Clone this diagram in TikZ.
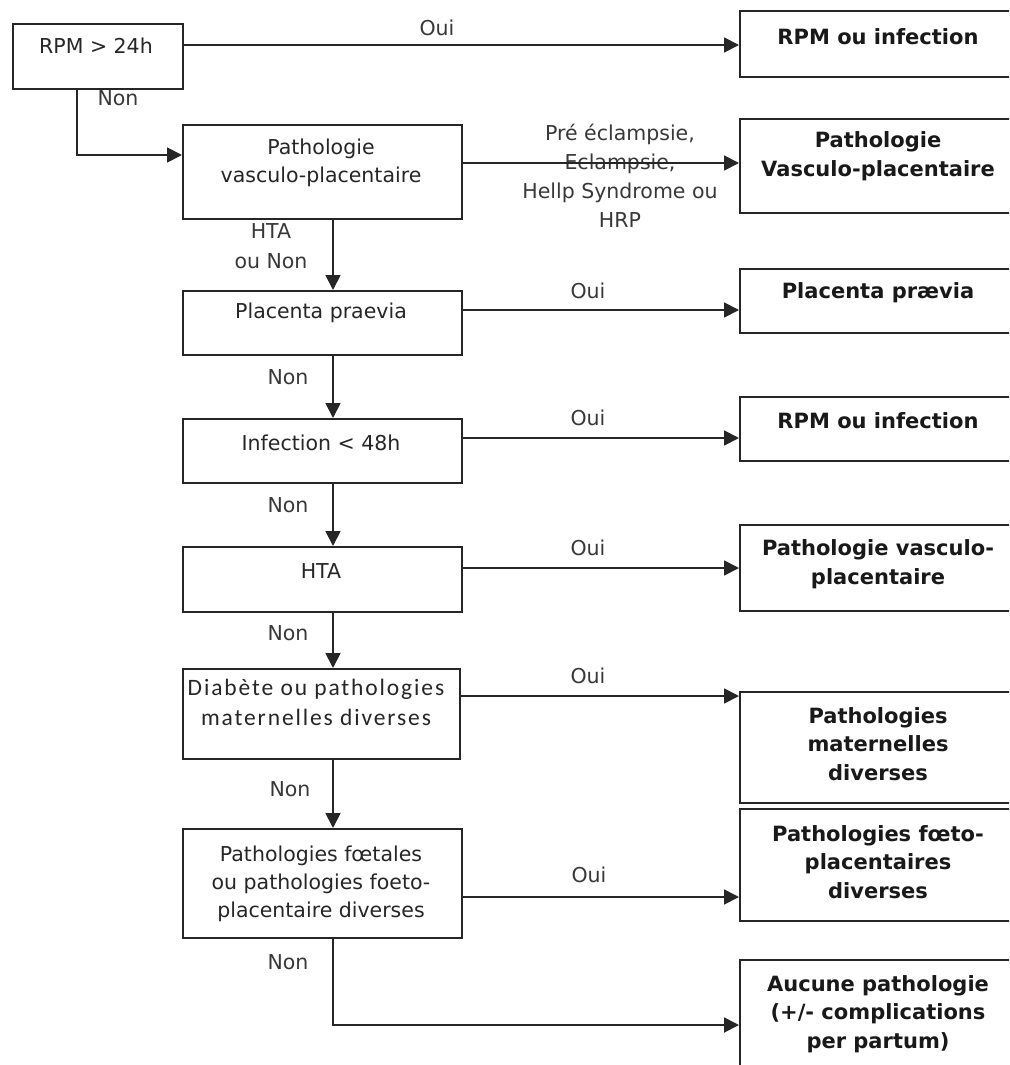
\documentclass[tikz,border=0pt]{standalone}
\usepackage{fontspec}
\setmainfont{DejaVu Sans}
\newfontfamily\calib{Carlito}[LetterSpace=8]
\usetikzlibrary{arrows.meta}
\begin{document}
\begin{tikzpicture}[x=1pt,y=-1pt,
  box/.style={draw=black!85, line width=1.8pt, inner sep=0pt, anchor=north west},
  txt/.style={align=center, font=\fontsize{20.5}{28}\selectfont, text=black!85, inner sep=0pt},
  res/.style={align=center, font=\fontsize{21}{28.5}\selectfont\bfseries, text=black!90, inner sep=0pt},
  lab/.style={txt, text=black!78},
  arr/.style={line width=1.8pt, draw=black!85, -{Triangle[length=15pt,width=15pt]}}]
\useasboundingbox (0,0) rectangle (1009,1065);
\clip (0,0) rectangle (1009,1065);
\fill[white] (0,0) rectangle (1009,1065);
% left boxes
\node[box, minimum width=170pt, minimum height=65pt] (rpm) at (12,23) {};
\node[box, minimum width=279pt, minimum height=94pt] (pvp) at (182,124) {};
\node[box, minimum width=279pt, minimum height=64pt] (pp) at (182,290) {};
\node[box, minimum width=279pt, minimum height=64pt] (inf) at (182,418) {};
\node[box, minimum width=279pt, minimum height=65pt] (hta) at (182,546) {};
\node[box, minimum width=277pt, minimum height=90pt] (dia) at (182,668) {};
\node[box, minimum width=279pt, minimum height=109pt] (foet) at (182,828) {};
% right boxes
\node[box, minimum width=278pt, minimum height=66pt] (r1) at (739,10) {};
\node[box, minimum width=278pt, minimum height=94pt] (r2) at (739,118) {};
\node[box, minimum width=278pt, minimum height=64pt] (r3) at (739,268) {};
\node[box, minimum width=278pt, minimum height=64pt] (r4) at (739,396) {};
\node[box, minimum width=278pt, minimum height=86pt] (r5) at (739,524) {};
\node[box, minimum width=278pt, minimum height=111pt] (r6) at (739,691) {};
\node[box, minimum width=278pt, minimum height=112pt] (r7) at (739,808) {};
\node[box, minimum width=278pt, minimum height=120pt] (r8) at (739,959) {};
% texts in left boxes
\node[txt] (trpm) at (96,46) {RPM > 24h};
\node[txt] (tpvp) at (321,163) {Pathologie\\vasculo-placentaire};
\node[txt] (tpp) at (321,313) {Placenta praevia};
\node[txt] (tinf) at (321,443) {Infection < 48h};
\node[txt] (thta) at (321,571) {HTA};
\node[txt, font=\calib\fontsize{23.5}{30}\selectfont] (tdia) at (316,702) {Diabète ou pathologies\\maternelles diverses};
\node[txt] (tfoet) at (321,884) {Pathologies fœtales\\ou pathologies foeto-\\placentaire diverses};
% texts in right boxes
\node[res] (tr1) at (878,37) {RPM ou infection};
\node[res] (tr2) at (878,156) {Pathologie\\Vasculo-placentaire};
\node[res] (tr3) at (878,293) {Placenta prævia};
\node[res] (tr4) at (878,421) {RPM ou infection};
\node[res] (tr5) at (878,564) {Pathologie vasculo-\\placentaire};
\node[res] (tr6) at (878,744) {Pathologies\\maternelles\\diverses};
\node[res] (tr7) at (878,862) {Pathologies fœto-\\placentaires\\diverses};
\node[res] (tr8) at (878,1014) {Aucune pathologie\\(+/- complications\\per partum)};
% labels
\node[lab] (l1) at (437,28) {Oui};
\node[lab] (l2) at (118,98) {Non};
\node[lab, font=\fontsize{20.5}{29}\selectfont] (l3) at (620,176) {Pré éclampsie,\\Eclampsie,\\Hellp Syndrome ou\\HRP};
\node[lab, font=\fontsize{20.5}{30}\selectfont] (l4) at (271,246) {HTA\\ou Non};
\node[lab] (l5) at (588,291) {Oui};
\node[lab] (l6) at (288,377) {Non};
\node[lab] (l7) at (588,418) {Oui};
\node[lab] (l8) at (288,505) {Non};
\node[lab] (l9) at (588,548) {Oui};
\node[lab] (l10) at (288,633) {Non};
\node[lab] (l11) at (588,676) {Oui};
\node[lab] (l12) at (290,789) {Non};
\node[lab] (l13) at (589,875) {Oui};
\node[lab] (l14) at (288,962) {Non};
% helper coordinates
\coordinate (ax) at (333,0);
\coordinate (lx) at (77,0);
\coordinate (yn) at (0,155);
\coordinate (y1) at (0,45);
\coordinate (y2) at (0,163);
\coordinate (y3) at (0,310);
\coordinate (y4) at (0,438);
\coordinate (y5) at (0,568);
\coordinate (y6) at (0,696);
\coordinate (y7) at (0,897);
\coordinate (yb) at (0,1025);
% connectors
\draw[arr] (rpm.east |- y1) -- (r1.west |- y1);
\draw[arr] (rpm.south -| lx) -- (lx |- yn) -- (pvp.west |- yn);
\draw[arr] (pvp.east |- y2) -- (r2.west |- y2);
\draw[arr] (pvp.south -| ax) -- (pp.north -| ax);
\draw[arr] (pp.east |- y3) -- (r3.west |- y3);
\draw[arr] (pp.south -| ax) -- (inf.north -| ax);
\draw[arr] (inf.east |- y4) -- (r4.west |- y4);
\draw[arr] (inf.south -| ax) -- (hta.north -| ax);
\draw[arr] (hta.east |- y5) -- (r5.west |- y5);
\draw[arr] (hta.south -| ax) -- (dia.north -| ax);
\draw[arr] (dia.east |- y6) -- (r6.west |- y6);
\draw[arr] (dia.south -| ax) -- (foet.north -| ax);
\draw[arr] (foet.east |- y7) -- (r7.west |- y7);
\draw[arr] (foet.south -| ax) -- (ax |- yb) -- (r8.west |- yb);
\end{tikzpicture}
\end{document}
